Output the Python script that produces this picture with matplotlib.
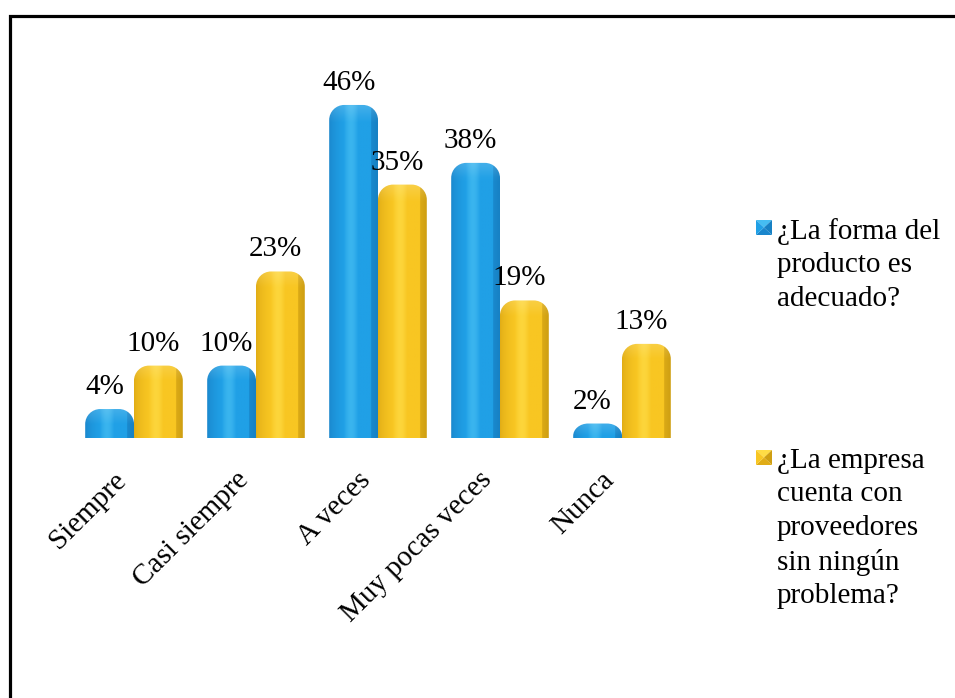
import matplotlib

matplotlib.use("Agg")

import matplotlib.pyplot as plt
import numpy as np
from matplotlib.patches import PathPatch, Polygon, Rectangle
from matplotlib.path import Path

categories = ["Siempre", "Casi siempre", "A veces", "Muy pocas veces", "Nunca"]
forma_producto = [4, 10, 46, 38, 2]
proveedores = [10, 23, 35, 19, 13]
series_labels = [
    "¿La forma del\nproducto es\nadecuado?",
    "¿La empresa\ncuenta con\nproveedores\nsin ningún\nproblema?",
]

W, H = 955, 698
FONT = ["Liberation Serif", "DejaVu Serif"]
FS = 21
plt.rcParams["font.family"] = FONT

# palettes: (shadow, body, highlight, side face)
BLUE = ["#1a86cc", "#20a0e6", "#45bdf2", "#1781c4"]
GOLD = ["#e0ac16", "#f8c622", "#ffdc45", "#cf9f12"]


def hex_rgb(c):
    c = c.lstrip("#")
    return np.array([int(c[i:i + 2], 16) / 255 for i in (0, 2, 4)])


def shade_image(pal, height_frac_cap, n=64):
    shadow, body, hi, side = (hex_rgb(c) for c in pal)
    u = np.linspace(0, 1, n)
    cols = np.zeros((n, 3))
    for i, t in enumerate(u):
        if t < 0.3:
            cols[i] = shadow + (body - shadow) * (t / 0.3) ** 0.6
        elif t < 0.6:
            s = np.sin((t - 0.3) / 0.3 * np.pi)
            cols[i] = body + (hi - body) * 0.7 * s
        elif t < 0.86:
            cols[i] = body
        else:
            cols[i] = side + (body - side) * 0.3 * (1 - (t - 0.86) / 0.14)
    v = np.linspace(0, 1, n)[:, None, None]
    img = np.repeat(cols[None, :, :], n, axis=0)
    # lighten the rounded cap a little
    cap = np.clip((v - (1 - height_frac_cap)) / max(height_frac_cap, 1e-3), 0, 1)
    img = img + (1 - img) * 0.15 * cap
    return np.clip(img, 0, 1)


def rounded_bar(x0, x1, top, rx, ry):
    ry = min(ry, top * 0.85)
    k = 0.5523
    verts = [
        (x0, 0), (x1, 0), (x1, top - ry),
        (x1, top - ry + k * ry), (x1 - rx + k * rx, top), (x1 - rx, top),
        (x0 + rx, top),
        (x0 + rx - k * rx, top), (x0, top - ry + k * ry), (x0, top - ry),
        (x0, 0),
    ]
    codes = [Path.MOVETO, Path.LINETO, Path.LINETO,
             Path.CURVE4, Path.CURVE4, Path.CURVE4,
             Path.LINETO,
             Path.CURVE4, Path.CURVE4, Path.CURVE4,
             Path.CLOSEPOLY]
    return Path(verts, codes), ry


fig = plt.figure(figsize=(W / 100, H / 100), dpi=100)
ax = fig.add_axes([73 / W, (H - 438) / H, 610 / W, 378 / H])
ymax = 378 / 7.24
rx = 15 / 122
ry = 15 / 7.24
width = 0.4

for values, offset, pal in ((forma_producto, -0.2, BLUE), (proveedores, 0.2, GOLD)):
    for i, v in enumerate(values):
        x0 = i + offset - width / 2
        x1 = i + offset + width / 2
        path, r = rounded_bar(x0, x1, v, rx, ry)
        patch = PathPatch(path, facecolor="none", edgecolor="none")
        ax.add_patch(patch)
        img = shade_image(pal, r / v)
        im = ax.imshow(img, extent=(x0, x1, 0, v), origin="lower",
                       aspect="auto", interpolation="bilinear", zorder=2)
        im.set_clip_path(patch)
        ax.annotate(f"{v}%", xy=(i + offset, v), xytext=(-5, 22),
                    textcoords="offset pixels", ha="center", va="center",
                    fontsize=FS, zorder=5)

for i, name in enumerate(categories):
    ax.annotate(name, xy=(i, 0), xytext=(-21, -29), textcoords="offset pixels",
                ha="right", va="top", rotation=45, rotation_mode="anchor",
                fontsize=FS, annotation_clip=False)

ax.set_xlim(-0.5, 4.5)
ax.set_ylim(0, ymax)
ax.axis("off")


def fx(px):
    return px / W


def fy(py):
    return (H - py) / H


# legend with bevelled square keys
for (top_px, label, pal) in ((220, series_labels[0], BLUE), (450, series_labels[1], GOLD)):
    x0, x1 = 756, 772
    y0, y1 = top_px, top_px + 15
    xc, yc = (x0 + x1) / 2, (y0 + y1) / 2
    faces = [
        ([(x0, y0), (x1, y0), (xc, yc)], pal[2]),
        ([(x1, y0), (x1, y1), (xc, yc)], pal[3]),
        ([(x1, y1), (x0, y1), (xc, yc)], pal[0]),
        ([(x0, y1), (x0, y0), (xc, yc)], pal[1]),
    ]
    for pts, col in faces:
        fig.patches.append(Polygon([(fx(a), fy(b)) for a, b in pts], closed=True,
                                   facecolor=col, edgecolor="none",
                                   transform=fig.transFigure))
    fig.text(fx(777), fy(top_px - 2), label, ha="left", va="top",
             fontsize=FS, linespacing=1.37)

# chart frame (runs off the right and bottom edges)
fig.patches.append(Rectangle((fx(9.5), -0.05), 1.2, fy(15.5) + 0.05,
                             facecolor="none", edgecolor="black", linewidth=2.3,
                             transform=fig.transFigure))

fig.savefig("out.png", dpi=100)
